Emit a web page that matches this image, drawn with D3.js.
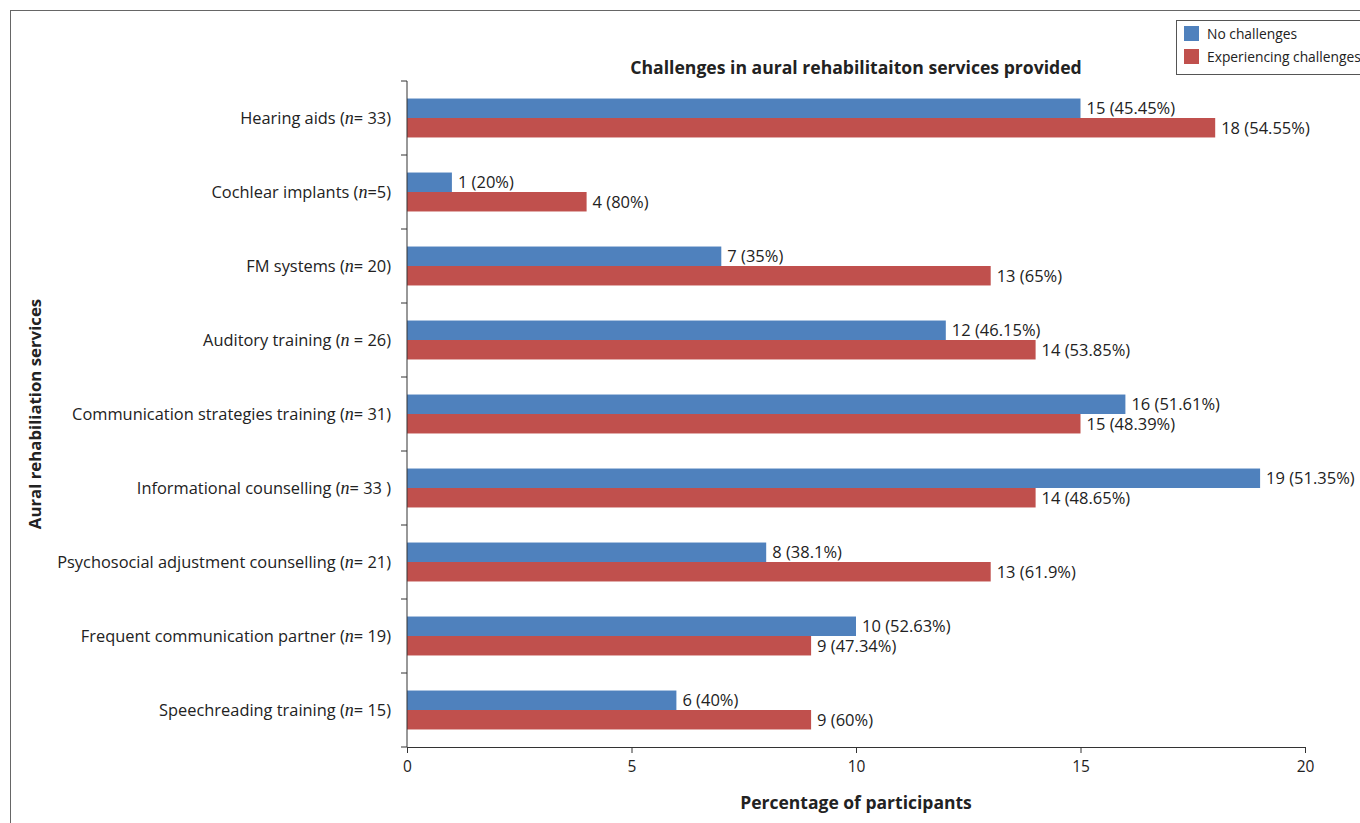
<!DOCTYPE html>
<html><head><meta charset="utf-8">
<script src="https://cdn.jsdelivr.net/npm/d3@7"></script>
<style>body{margin:0;background:#fff}svg{display:block}text{font-family:"Open Sans",Lato,sans-serif}</style>
</head><body><svg id="c" width="1360" height="823"></svg>
<script>
const catPre = ["Hearing aids (","Cochlear implants (","FM systems (","Auditory training (","Communication strategies training (","Informational counselling (","Psychosocial adjustment counselling (","Frequent communication partner (","Speechreading training ("];
const catPost = ["= 33)","=5)","= 20)"," = 26)","= 31)","= 33 )","= 21)","= 19)","= 15)"];
const noChallenges = [15,1,7,12,16,19,8,10,6];
const experiencing = [18,4,13,14,15,14,13,9,9];
const noLabels = ["15 (45.45%)","1 (20%)","7 (35%)","12 (46.15%)","16 (51.61%)","19 (51.35%)","8 (38.1%)","10 (52.63%)","6 (40%)"];
const expLabels = ["18 (54.55%)","4 (80%)","13 (65%)","14 (53.85%)","15 (48.39%)","14 (48.65%)","13 (61.9%)","9 (47.34%)","9 (60%)"];
const xTicks = [0,5,10,15,20];
const seriesNames = ["No challenges","Experiencing challenges"];
const colors = ["#4F81BD","#C0504D"];

const svg = d3.select("#c");
svg.append("rect").attr("x",10.5).attr("y",10.5).attr("width",1400).attr("height",900).attr("fill","none").attr("stroke","#666");

const x = d3.scaleLinear().domain([0,20]).range([407,1305]);
const idx = d3.range(catPre.length);
const y = d3.scaleBand().domain(idx).range([81,747]);
const inner = d3.scaleBand().domain([0,1]).range([0,y.bandwidth()]).paddingInner(0).paddingOuter(0.9);

const series = [noChallenges, experiencing];
const labs = [noLabels, expLabels];
series.forEach((s,si)=>{
  svg.append("g").selectAll("rect").data(idx).join("rect")
    .attr("x",x(0)).attr("y",i=>y(i)+inner(si))
    .attr("width",i=>x(s[i])-x(0)).attr("height",inner.bandwidth())
    .attr("fill",colors[si]);
  svg.append("g").selectAll("text").data(idx).join("text")
    .attr("x",i=>x(s[i])+6).attr("y",i=>y(i)+inner(si)+inner.bandwidth()/2)
    .attr("dy","0.36em").attr("font-size",16.5).attr("fill","#222")
    .text(i=>labs[si][i]);
});

const xa = svg.append("g").attr("transform","translate(0,747)")
  .call(d3.axisBottom(x).tickValues(xTicks).tickSize(6).tickPadding(8).tickSizeOuter(0));
xa.select(".domain").attr("stroke","#333");
xa.selectAll("line").attr("stroke","#333");
xa.selectAll("text").attr("font-size",15.5).attr("fill","#222").style("font-family","'Open Sans',sans-serif");

const ya = svg.append("g").attr("transform","translate(407,0)");
ya.append("line").attr("x1",0).attr("x2",0).attr("y1",81).attr("y2",747).attr("stroke","#333");
const bounds = d3.range(catPre.length+1).map(i=> i<catPre.length ? y(i) : y(catPre.length-1)+y.bandwidth());
ya.selectAll("line.t").data(bounds).join("line").attr("class","t")
  .attr("x1",-6).attr("x2",0).attr("y1",d=>d).attr("y2",d=>d).attr("stroke","#333");

const cl = svg.append("g").selectAll("text").data(idx).join("text")
  .attr("x",391).attr("y",i=>y(i)+y.bandwidth()/2).attr("dy","0.36em")
  .attr("text-anchor","end").attr("font-size",16.4).attr("fill","#222");
cl.append("tspan").text(i=>catPre[i]);
cl.append("tspan").style("font-family","'Liberation Serif',serif").attr("font-style","italic").attr("font-size",18).text("n");
cl.append("tspan").text(i=>catPost[i]);

svg.append("text").attr("x",856).attr("y",74).attr("text-anchor","middle").attr("font-weight","bold").attr("font-size",17.6).attr("fill","#222")
  .text("Challenges in aural rehabilitaiton services provided");
svg.append("text").attr("x",856).attr("y",809).attr("text-anchor","middle").attr("font-weight","bold").attr("font-size",17.5).attr("fill","#222")
  .text("Percentage of participants");
svg.append("text").attr("transform","translate(41,414) rotate(-90)").attr("text-anchor","middle").attr("font-weight","bold").attr("font-size",16.8).attr("fill","#222")
  .text("Aural rehabiliation services");

const lg = svg.append("g");
lg.append("rect").attr("x",1176.5).attr("y",20.5).attr("width",200).attr("height",54).attr("fill","#fff").attr("stroke","#555");
seriesNames.forEach((n,i)=>{
  lg.append("rect").attr("x",1184).attr("y",26+i*23).attr("width",15).attr("height",15).attr("fill",colors[i]);
  lg.append("text").attr("x",1207).attr("y",34+i*23).attr("dy","0.36em").attr("font-size",13.8).attr("fill","#222").text(n);
});
</script></body></html>
